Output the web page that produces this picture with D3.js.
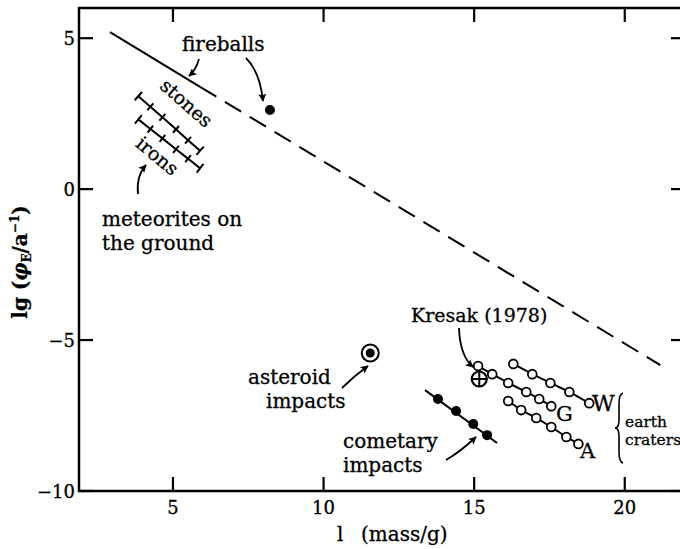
<!DOCTYPE html>
<html>
<head>
<meta charset="utf-8">
<script src="https://cdn.jsdelivr.net/npm/d3@7"></script>
<style>
    body { margin: 0; background: #fff; }
    text { font-family: "DejaVu Serif", serif; fill: #000; stroke: #000; stroke-width: 0.3; }
</style>
</head>
<body>
<div id="chart"></div>
<script>
// Values (x = lg mass, y = lg flux)
const xTicks = [5, 10, 15, 20];
const yTicks = [5, 0, -5, -10];

// fireball flux line: solid part then dashed part
const fireballSolidX = [2.91, 5.9];
const fireballSolidY = [5.20, 3.39];
const fireballDashX = [5.9, 21.18];
const fireballDashY = [3.39, -5.83];
const fireballDot = [8.22, 2.62];

// meteorites on the ground
const stonesX = [3.85, 4.25, 4.65, 5.1, 5.5, 5.9];
const stonesY = [3.08, 2.73, 2.38, 1.98, 1.62, 1.27];
const ironsX = [3.85, 4.25, 4.65, 5.1, 5.5, 5.9];
const ironsY = [2.31, 1.99, 1.68, 1.32, 1.01, 0.69];

const asteroidPoint = [11.55, -5.43];
const kresakPoint = [15.17, -6.29];

// earth craters
const craterGX = [15.13, 15.60, 16.13, 16.73, 17.16, 17.56];
const craterGY = [-5.86, -6.13, -6.42, -6.72, -6.95, -7.19];
const craterWX = [16.30, 16.93, 17.53, 18.16, 18.82];
const craterWY = [-5.79, -6.13, -6.42, -6.72, -7.09];
const craterAX = [16.13, 16.56, 17.06, 17.56, 18.06, 18.46];
const craterAY = [-7.02, -7.32, -7.58, -7.88, -8.21, -8.44];

// cometary impacts
const cometLineX = [13.37, 15.76];
const cometLineY = [-6.66, -8.41];
const cometX = [13.80, 14.40, 14.97, 15.43];
const cometY = [-6.95, -7.35, -7.78, -8.15];

const width = 680, height = 549;

const svg = d3.select("#chart").append("svg")
    .attr("width", width)
    .attr("height", height);

const x = d3.scaleLinear().domain([1.88, 22]).range([79, 685]);
const y = d3.scaleLinear().domain([-10, 6]).range([491, 8]);

const zip = (xs, ys) => xs.map((v, i) => [v, ys[i]]);
const line = d3.line().x(d => x(d[0])).y(d => y(d[1]));

// arrow head
svg.append("defs").append("marker")
    .attr("id", "head")
    .attr("viewBox", "0 0 10 10")
    .attr("refX", 9).attr("refY", 5)
    .attr("markerUnits", "userSpaceOnUse")
    .attr("markerWidth", 11).attr("markerHeight", 8)
    .attr("orient", "auto")
    .append("path").attr("d", "M0,0 L10,5 L0,10 L2,5 z").attr("fill", "#000");

// frame
svg.append("rect")
    .attr("x", x(1.88)).attr("y", y(6))
    .attr("width", x(22) - x(1.88)).attr("height", y(-10) - y(6))
    .attr("fill", "none").attr("stroke", "#000").attr("stroke-width", 2.5);

// inward ticks on all four sides
const tickLen = 14;
const tk = svg.append("g").attr("stroke", "#000").attr("stroke-width", 2.2);
xTicks.forEach(t => {
    tk.append("line").attr("x1", x(t)).attr("x2", x(t)).attr("y1", y(-10)).attr("y2", y(-10) - tickLen);
    tk.append("line").attr("x1", x(t)).attr("x2", x(t)).attr("y1", y(6)).attr("y2", y(6) + tickLen);
});
yTicks.forEach(t => {
    tk.append("line").attr("x1", x(1.88)).attr("x2", x(1.88) + tickLen).attr("y1", y(t)).attr("y2", y(t));
    tk.append("line").attr("x1", x(22)).attr("x2", x(22) - tickLen).attr("y1", y(t)).attr("y2", y(t));
});

// tick labels
svg.append("g").selectAll("text").data(xTicks).join("text")
    .attr("x", d => x(d)).attr("y", 514)
    .attr("text-anchor", "middle").attr("font-size", 18)
    .text(d => d);
svg.append("g").selectAll("text").data(yTicks).join("text")
    .attr("x", 75).attr("y", d => y(d) + 7)
    .attr("text-anchor", "end").attr("font-size", 18)
    .text(d => d < 0 ? "\u2212" + Math.abs(d) : d);

// axis titles
const xt = svg.append("text").attr("y", 541).attr("font-size", 20);
xt.append("tspan").attr("x", 337).text("l");
xt.append("tspan").attr("x", 361).text("(mass/g)");

const yt = svg.append("text")
    .attr("transform", "translate(27,262) rotate(-90)")
    .attr("text-anchor", "middle").attr("font-size", 20).attr("font-weight", "bold");
yt.append("tspan").text("lg (");
yt.append("tspan").attr("font-style", "italic").text("\u03c6");
yt.append("tspan").attr("font-size", 12).attr("dy", 4).text("E");
yt.append("tspan").attr("dy", -4).text("/a");
yt.append("tspan").attr("font-size", 12).attr("dy", -8).text("\u22121");
yt.append("tspan").attr("dy", 8).text(")");

// fireball line
svg.append("path").datum(zip(fireballSolidX, fireballSolidY))
    .attr("d", line).attr("fill", "none").attr("stroke", "#000").attr("stroke-width", 2);
svg.append("path").datum(zip(fireballDashX, fireballDashY))
    .attr("d", line).attr("fill", "none").attr("stroke", "#000").attr("stroke-width", 2)
    .attr("stroke-dasharray", "19,10");
svg.append("circle").attr("cx", x(fireballDot[0])).attr("cy", y(fireballDot[1]))
    .attr("r", 5).attr("fill", "#000");

// meteorite lines with cross ticks
function tickedLine(xs, ys) {
    const pts = zip(xs, ys);
    svg.append("path").datum(pts).attr("d", line)
        .attr("fill", "none").attr("stroke", "#000").attr("stroke-width", 2);
    const dx = x(xs[xs.length - 1]) - x(xs[0]), dy = y(ys[ys.length - 1]) - y(ys[0]);
    const len = Math.hypot(dx, dy), nx = -dy / len, ny = dx / len;
    pts.forEach((p, i) => {
        const h = (i === 0 || i === pts.length - 1) ? 5.5 : 4.5;
        svg.append("line")
            .attr("x1", x(p[0]) - nx * h).attr("y1", y(p[1]) - ny * h)
            .attr("x2", x(p[0]) + nx * h).attr("y2", y(p[1]) + ny * h)
            .attr("stroke", "#000").attr("stroke-width", 2);
    });
}
tickedLine(stonesX, stonesY);
tickedLine(ironsX, ironsY);

// earth crater lines with open circles
function openSeries(xs, ys) {
    const pts = zip(xs, ys);
    svg.append("path").datum(pts).attr("d", line)
        .attr("fill", "none").attr("stroke", "#000").attr("stroke-width", 2);
    svg.append("g").selectAll("circle").data(pts).join("circle")
        .attr("cx", d => x(d[0])).attr("cy", d => y(d[1])).attr("r", 4.4)
        .attr("fill", "#fff").attr("stroke", "#000").attr("stroke-width", 1.8);
}
openSeries(craterGX, craterGY);
openSeries(craterWX, craterWY);
openSeries(craterAX, craterAY);

// cometary impacts
svg.append("path").datum(zip(cometLineX, cometLineY)).attr("d", line)
    .attr("fill", "none").attr("stroke", "#000").attr("stroke-width", 2);
svg.append("g").selectAll("circle").data(zip(cometX, cometY)).join("circle")
    .attr("cx", d => x(d[0])).attr("cy", d => y(d[1])).attr("r", 5)
    .attr("fill", "#000");

// asteroid impacts: circled dot
svg.append("circle").attr("cx", x(asteroidPoint[0])).attr("cy", y(asteroidPoint[1]))
    .attr("r", 8.5).attr("fill", "#fff").attr("stroke", "#000").attr("stroke-width", 2);
svg.append("circle").attr("cx", x(asteroidPoint[0])).attr("cy", y(asteroidPoint[1]))
    .attr("r", 4.5).attr("fill", "#000");

// Kresak: circled plus
const kx = x(kresakPoint[0]), ky = y(kresakPoint[1]);
svg.append("circle").attr("cx", kx).attr("cy", ky).attr("r", 7.5)
    .attr("fill", "#fff").attr("stroke", "#000").attr("stroke-width", 2.2);
svg.append("path").attr("d", `M${kx - 7.5},${ky}H${kx + 7.5}M${kx},${ky - 7.5}V${ky + 7.5}`)
    .attr("stroke", "#000").attr("stroke-width", 2);

// labels
const labels = [
    { t: "fireballs", x: 182, y: 51, s: 20 },
    { t: "meteorites on", x: 102, y: 226, s: 20 },
    { t: "the ground", x: 102, y: 250, s: 20 },
    { t: "Kresak (1978)", x: 411, y: 322, s: 19 },
    { t: "asteroid", x: 248, y: 384, s: 20 },
    { t: "impacts", x: 266, y: 408, s: 20 },
    { t: "cometary", x: 343, y: 448, s: 20 },
    { t: "impacts", x: 343, y: 472, s: 20 },
    { t: "G", x: 556, y: 421, s: 21 },
    { t: "W", x: 592, y: 411, s: 22 },
    { t: "A", x: 580, y: 458, s: 21 },
    { t: "earth", x: 625, y: 427, s: 15.5 },
    { t: "craters", x: 625, y: 445, s: 15.5 }
];
svg.append("g").selectAll("text").data(labels).join("text")
    .attr("x", d => d.x).attr("y", d => d.y).attr("font-size", d => d.s)
    .text(d => d.t);

svg.append("text").attr("font-size", 19)
    .attr("transform", "translate(182,108) rotate(41.6)")
    .attr("text-anchor", "middle").text("stones");
svg.append("text").attr("font-size", 19)
    .attr("transform", "translate(153,161) rotate(40)")
    .attr("text-anchor", "middle").text("irons");

// brace for earth craters
svg.append("path")
    .attr("d", "M623,393 Q619,394 619,404 L619,420 Q619,428 615,428 Q619,428 619,436 L619,452 Q619,462 623,463")
    .attr("fill", "none").attr("stroke", "#000").attr("stroke-width", 1.6);

// arrows
const arrows = [
    "M199,59 Q196,70 189,76",
    "M246,58 Q260,72 263,101",
    "M138,194 Q136,176 146,165",
    "M459,328 Q460,356 473,367",
    "M342,388 Q354,376 368,366",
    "M446,460 Q460,452 476,437"
];
svg.append("g").selectAll("path").data(arrows).join("path")
    .attr("d", d => d).attr("fill", "none").attr("stroke", "#000")
    .attr("stroke-width", 1.8).attr("marker-end", "url(#head)");
</script>
</body>
</html>
